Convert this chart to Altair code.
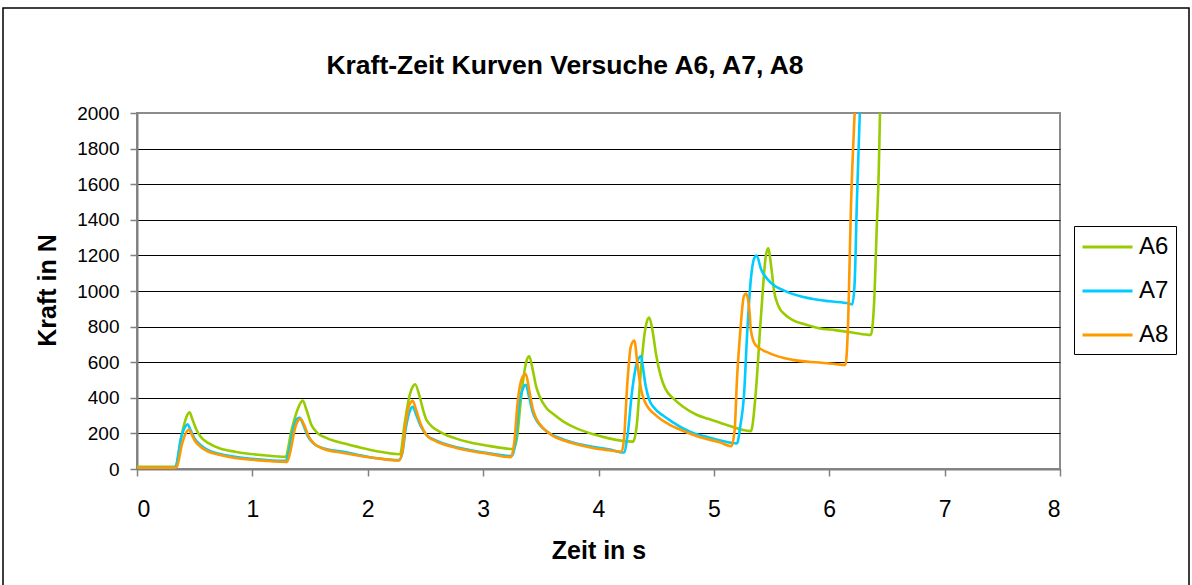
import altair as alt
import pandas as pd

# ---- data (time in s, force in N) ----
title_text = "Kraft-Zeit Kurven Versuche A6, A7, A8"

a6_t = [0, 0.32, 0.334, 0.39, 0.43, 0.455, 0.48, 0.51, 0.55, 0.62, 0.72, 0.85, 0.95, 1.10, 1.285,
        1.34, 1.39, 1.436, 1.47, 1.51, 1.56, 1.65, 1.79, 1.95, 2.08, 2.28,
        2.32, 2.36, 2.39, 2.41, 2.45, 2.48, 2.51, 2.65, 2.76, 2.88, 3.05, 3.26,
        3.29, 3.33, 3.36, 3.38, 3.40, 3.43, 3.46, 3.49, 3.55, 3.60, 3.70, 3.81, 3.95, 4.09, 4.30,
        4.33, 4.37, 4.40, 4.42, 4.44, 4.47, 4.50, 4.54, 4.58, 4.65, 4.73, 4.85, 4.95, 5.10, 5.32,
        5.33, 5.36, 5.41, 5.45, 5.47, 5.50, 5.52, 5.56, 5.62, 5.68, 5.80, 5.91, 6.05, 6.20, 6.36,
        6.39, 6.41, 6.43, 6.44, 6.46]
a6_f = [12, 12, 14, 200, 295, 318, 280, 228, 182, 145, 115, 97, 87, 77, 68,
        219, 331, 384, 330, 250, 205, 172, 144, 118, 100, 83,
        256, 406, 463, 476, 406, 331, 275, 200, 172, 150, 130, 112,
        162, 406, 557, 615, 633, 557, 463, 407, 341, 313, 265, 228, 196, 172, 154,
        237, 575, 763, 830, 851, 770, 640, 520, 450, 395, 351, 305, 282, 250, 213,
        228, 405, 875, 1196, 1240, 1120, 1007, 914, 865, 838, 810, 791, 780, 767, 753,
        950, 1324, 1698, 2000, 2300]

a7_t = [0, 0.32, 0.335, 0.38, 0.42, 0.44, 0.46, 0.50, 0.55, 0.62, 0.72, 0.85, 0.95, 1.10, 1.29,
        1.32, 1.36, 1.39, 1.41, 1.44, 1.48, 1.53, 1.62, 1.79, 1.95, 2.08, 2.27,
        2.30, 2.33, 2.37, 2.39, 2.42, 2.46, 2.51, 2.58, 2.65, 2.76, 2.88, 3.05, 3.25,
        3.28, 3.31, 3.35, 3.37, 3.40, 3.43, 3.46, 3.52, 3.60, 3.70, 3.80, 3.95, 4.09, 4.22,
        4.25, 4.29, 4.33, 4.37, 4.38, 4.41, 4.44, 4.48, 4.56, 4.65, 4.73, 4.83, 4.93, 5.05, 5.20,
        5.23, 5.26, 5.29, 5.32, 5.35, 5.37, 5.41, 5.48, 5.62, 5.85, 6.00, 6.17, 6.20,
        6.22, 6.24, 6.265, 6.28]
a7_f = [10, 10, 14, 170, 240, 251, 225, 170, 135, 105, 84, 68, 60, 52, 46,
        110, 240, 283, 288, 250, 185, 144, 115, 97, 75, 60, 50,
        90, 230, 335, 350, 305, 240, 190, 163, 145, 124, 107, 88, 73,
        150, 350, 460, 473, 400, 320, 276, 228, 191, 165, 145, 125, 111, 93,
        180, 430, 590, 635, 594, 463, 388, 345, 300, 260, 229, 200, 182, 162, 144,
        245, 404, 780, 1062, 1185, 1199, 1121, 1055, 999, 956, 942, 930, 925,
        1045, 1513, 2000, 2300]

a8_t = [0, 0.33, 0.345, 0.39, 0.43, 0.45, 0.47, 0.50, 0.55, 0.62, 0.72, 0.85, 0.95, 1.10, 1.30,
        1.33, 1.37, 1.40, 1.42, 1.45, 1.49, 1.54, 1.62, 1.79, 1.95, 2.08, 2.27,
        2.30, 2.33, 2.36, 2.39, 2.42, 2.46, 2.51, 2.58, 2.65, 2.76, 2.88, 3.05, 3.24,
        3.27, 3.30, 3.34, 3.37, 3.40, 3.43, 3.46, 3.52, 3.60, 3.70, 3.80, 3.95, 4.09, 4.20,
        4.22, 4.25, 4.28, 4.31, 4.34, 4.37, 4.40, 4.50, 4.60, 4.73, 4.83, 4.93, 5.05, 5.15,
        5.18, 5.20, 5.23, 5.26, 5.28, 5.31, 5.32, 5.36, 5.48, 5.68, 5.91, 6.05, 6.14,
        6.16, 6.19, 6.22, 6.24]
a8_f = [8, 8, 12, 140, 210, 222, 200, 160, 125, 97, 79, 62, 55, 47, 40,
        100, 230, 275, 281, 245, 180, 140, 112, 90, 72, 60, 48,
        100, 260, 360, 383, 330, 250, 190, 160, 140, 120, 103, 85, 66,
        150, 380, 515, 533, 440, 340, 285, 230, 188, 160, 140, 118, 105, 97,
        162, 482, 688, 722, 575, 444, 380, 300, 255, 215, 190, 170, 150, 128,
        219, 500, 782, 970, 985, 876, 782, 697, 651, 613, 598, 590, 585,
        760, 1513, 2000, 2300]

series_names = ["A6", "A7", "A8"]
series_colors = ["#99CC00", "#00CCFF", "#FF9900"]

rows = []
for name, ts, fs in [("A6", a6_t, a6_f), ("A7", a7_t, a7_f), ("A8", a8_t, a8_f)]:
    for i, (t, f) in enumerate(zip(ts, fs)):
        rows.append({"Versuch": name, "Zeit": t, "Kraft": f, "idx": i})
df = pd.DataFrame(rows)

FONT = "Liberation Sans"

lines = alt.Chart(df).mark_line(interpolate="monotone", strokeWidth=2.6, clip=True).encode(
    x=alt.X("Zeit:Q",
            scale=alt.Scale(domain=[0, 8], nice=False),
            axis=alt.Axis(title="Zeit in s", values=[0, 1, 2, 3, 4, 5, 6, 7, 8], format="d",
                          grid=False, tickSize=7, tickColor="#808080", tickWidth=1.5,
                          domainColor="#808080", domainWidth=2,
                          labelFontSize=23, labelPadding=22, labelColor="black", labelFont=FONT,
                          titleFont=FONT, titleFontSize=25, titleFontWeight="bold",
                          titleColor="black", titleBaseline="alphabetic", titleY=89)),
    y=alt.Y("Kraft:Q",
            scale=alt.Scale(domain=[0, 2000], nice=False),
            axis=alt.Axis(title="Kraft in N", values=list(range(0, 2001, 200)), format="d",
                          grid=True,
                          gridColor={"condition": {"test": "datum.value >= 2000", "value": "#8c8c8c"},
                                     "value": "#000000"},
                          gridWidth=1.2,
                          tickSize=7, tickColor="#808080", tickWidth=1.5,
                          domainColor="#808080", domainWidth=2,
                          labelFontSize=19, labelPadding=11, labelColor="black", labelFont=FONT,
                          titleFont=FONT, titleFontSize=25, titleFontWeight="bold",
                          titleColor="black", titleAngle=-90, titleBaseline="alphabetic",
                          titleX=-82, titleY=177, titleAlign="center")),
    color=alt.Color("Versuch:N",
                    scale=alt.Scale(domain=series_names, range=series_colors),
                    legend=alt.Legend(title=None, orient="none", legendX=937, legendY=113,
                                      symbolType="M-1,0H3", symbolSize=625, symbolStrokeWidth=3,
                                      symbolFillColor="transparent",
                                      labelFontSize=24, labelFont=FONT, labelColor="black",
                                      labelOffset=30, rowPadding=18, padding=7,
                                      strokeColor="black", fillColor="white", cornerRadius=0)),
    order="idx:Q",
)

one = pd.DataFrame({"a": [1]})

frame = alt.Chart(one).mark_rect(
    filled=False, stroke="black", strokeWidth=1.5
).encode(
    x=alt.value(-134), x2=alt.value(1052), y=alt.value(-105), y2=alt.value(490)
)

title = alt.Chart(one).mark_text(
    font=FONT, fontSize=26.5, fontWeight="bold", color="black",
    align="center", baseline="alphabetic"
).encode(
    x=alt.value(428), y=alt.value(-39), text=alt.value(title_text)
)

chart = alt.layer(frame, title, lines).properties(
    width=923, height=356,
    padding={"left": 137, "top": 113, "right": 132, "bottom": 116},
    autosize=alt.AutoSizeParams(type="none"),
    background="white",
).configure_view(stroke="#8c8c8c", strokeWidth=2)

chart.save("out.html", embed_options={"renderer": "svg", "actions": False})
